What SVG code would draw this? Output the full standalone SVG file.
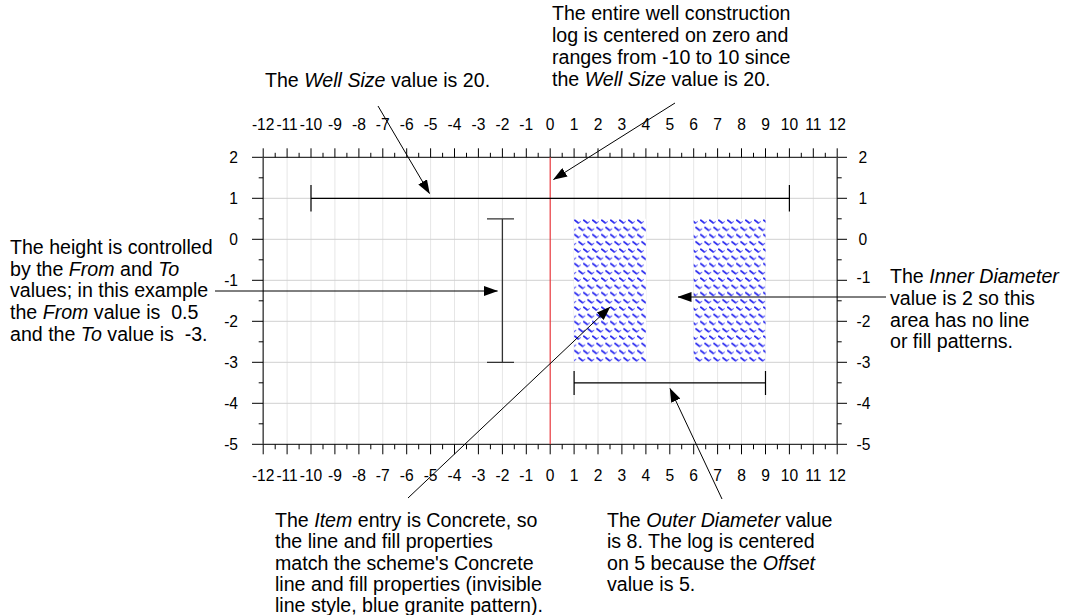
<svg xmlns="http://www.w3.org/2000/svg" width="1068" height="615" viewBox="0 0 1068 615">
<style>
.t{font-family:"Liberation Sans",Arial,sans-serif;font-size:19.6px;fill:#000}
.n{font-family:"Liberation Sans",Arial,sans-serif;font-size:15.6px;fill:#000}
.c{text-anchor:middle}
.e{text-anchor:end}
.gv{stroke:#e6e6e6;stroke-width:1;fill:none}
.gh{stroke:#d0d0d0;stroke-width:1;fill:none}
.tk{stroke:#000;stroke-width:1;fill:none}
.ax{stroke:#555;stroke-width:1.6;fill:none}
.br{stroke:#000;stroke-width:1.2;fill:none}
.ar{stroke:#000;stroke-width:1;fill:none;marker-end:url(#ah)}
</style>
<defs>
<marker id="ah" viewBox="0 0 14 10" refX="13.5" refY="5" markerWidth="14" markerHeight="10" markerUnits="userSpaceOnUse" orient="auto"><path d="M0,0 L14,5 L0,10 z" fill="#000"/></marker>
<pattern id="granite" patternUnits="userSpaceOnUse" width="9" height="14.5" x="574" y="219">
<rect width="9" height="14.5" fill="#fff"/>
<path d="M0.8,1.2 L4.2,3.9 M5,8.45 L8.4,11.15 M-3.5,8.45 L-0.1,11.15" stroke="#2a2af0" stroke-width="1.7" stroke-linecap="round" fill="none"/>
<path d="M4.8,3.9 L6.4,2.6 M9,11.15 L10.6,9.85 M0.3,11.15 L1.9,9.85" stroke="#5a5af5" stroke-width="1" stroke-linecap="round" fill="none"/>
</pattern>
</defs>
<rect width="1068" height="615" fill="#fff"/>
<g id="grid">
<path class="gv" d="M287.1,157.3V444.3M311,157.3V444.3M334.9,157.3V444.3M358.9,157.3V444.3M382.8,157.3V444.3M406.7,157.3V444.3M430.6,157.3V444.3M454.5,157.3V444.3M478.4,157.3V444.3M502.4,157.3V444.3M526.3,157.3V444.3M574.1,157.3V444.3M598,157.3V444.3M621.9,157.3V444.3M645.9,157.3V444.3M669.8,157.3V444.3M693.7,157.3V444.3M717.6,157.3V444.3M741.5,157.3V444.3M765.5,157.3V444.3M789.4,157.3V444.3M813.3,157.3V444.3"/>
<path class="gh" d="M263.2,198.3H837.2M263.2,239.3H837.2M263.2,280.3H837.2M263.2,321.3H837.2M263.2,362.3H837.2M263.2,403.3H837.2"/>
</g>
<g id="axes">
<path class="tk" d="M252,157.3H847M252,444.3H847"/>
<path class="ax" d="M263.2,157.3V444.3M837.2,157.3V444.3"/>
<path class="tk" d="M263.2,157.3v-9M287.1,157.3v-9M311,157.3v-9M334.9,157.3v-9M358.9,157.3v-9M382.8,157.3v-9M406.7,157.3v-9M430.6,157.3v-9M454.5,157.3v-9M478.4,157.3v-9M502.4,157.3v-9M526.3,157.3v-9M550.2,157.3v-9M574.1,157.3v-9M598,157.3v-9M621.9,157.3v-9M645.9,157.3v-9M669.8,157.3v-9M693.7,157.3v-9M717.6,157.3v-9M741.5,157.3v-9M765.5,157.3v-9M789.4,157.3v-9M813.3,157.3v-9M837.2,157.3v-9"/>
<path class="tk" d="M275.2,157.3v-4.5M299.1,157.3v-4.5M323,157.3v-4.5M346.9,157.3v-4.5M370.8,157.3v-4.5M394.7,157.3v-4.5M418.7,157.3v-4.5M442.6,157.3v-4.5M466.5,157.3v-4.5M490.4,157.3v-4.5M514.3,157.3v-4.5M538.2,157.3v-4.5M562.2,157.3v-4.5M586.1,157.3v-4.5M610,157.3v-4.5M633.9,157.3v-4.5M657.8,157.3v-4.5M681.7,157.3v-4.5M705.7,157.3v-4.5M729.6,157.3v-4.5M753.5,157.3v-4.5M777.4,157.3v-4.5M801.3,157.3v-4.5M825.3,157.3v-4.5"/>
<path class="tk" d="M263.2,444.3v10M287.1,444.3v10M311,444.3v10M334.9,444.3v10M358.9,444.3v10M382.8,444.3v10M406.7,444.3v10M430.6,444.3v10M454.5,444.3v10M478.4,444.3v10M502.4,444.3v10M526.3,444.3v10M550.2,444.3v10M574.1,444.3v10M598,444.3v10M621.9,444.3v10M645.9,444.3v10M669.8,444.3v10M693.7,444.3v10M717.6,444.3v10M741.5,444.3v10M765.5,444.3v10M789.4,444.3v10M813.3,444.3v10M837.2,444.3v10"/>
<path class="tk" d="M275.2,444.3v5M299.1,444.3v5M323,444.3v5M346.9,444.3v5M370.8,444.3v5M394.7,444.3v5M418.7,444.3v5M442.6,444.3v5M466.5,444.3v5M490.4,444.3v5M514.3,444.3v5M538.2,444.3v5M562.2,444.3v5M586.1,444.3v5M610,444.3v5M633.9,444.3v5M657.8,444.3v5M681.7,444.3v5M705.7,444.3v5M729.6,444.3v5M753.5,444.3v5M777.4,444.3v5M801.3,444.3v5M825.3,444.3v5"/>
<path class="tk" d="M252,198.3H263.2M252,239.3H263.2M252,280.3H263.2M252,321.3H263.2M252,362.3H263.2M252,403.3H263.2M258.7,177.8H263.2M258.7,218.8H263.2M258.7,259.8H263.2M258.7,300.8H263.2M258.7,341.8H263.2M258.7,382.8H263.2M258.7,423.8H263.2"/>
<path class="tk" d="M837.2,198.3H847M837.2,239.3H847M837.2,280.3H847M837.2,321.3H847M837.2,362.3H847M837.2,403.3H847M837.2,177.8H841.7M837.2,218.8H841.7M837.2,259.8H841.7M837.2,300.8H841.7M837.2,341.8H841.7M837.2,382.8H841.7M837.2,423.8H841.7"/>
<g class="n c">
<text x="263.2" y="129.5">-12</text><text x="287.1" y="129.5">-11</text><text x="311" y="129.5">-10</text><text x="334.9" y="129.5">-9</text><text x="358.9" y="129.5">-8</text><text x="382.8" y="129.5">-7</text><text x="406.7" y="129.5">-6</text><text x="430.6" y="129.5">-5</text><text x="454.5" y="129.5">-4</text><text x="478.4" y="129.5">-3</text><text x="502.4" y="129.5">-2</text><text x="526.3" y="129.5">-1</text><text x="550.2" y="129.5">0</text><text x="574.1" y="129.5">1</text><text x="598" y="129.5">2</text><text x="621.9" y="129.5">3</text><text x="645.9" y="129.5">4</text><text x="669.8" y="129.5">5</text><text x="693.7" y="129.5">6</text><text x="717.6" y="129.5">7</text><text x="741.5" y="129.5">8</text><text x="765.5" y="129.5">9</text><text x="789.4" y="129.5">10</text><text x="813.3" y="129.5">11</text><text x="837.2" y="129.5">12</text>
<text x="263.2" y="480.5">-12</text><text x="287.1" y="480.5">-11</text><text x="311" y="480.5">-10</text><text x="334.9" y="480.5">-9</text><text x="358.9" y="480.5">-8</text><text x="382.8" y="480.5">-7</text><text x="406.7" y="480.5">-6</text><text x="430.6" y="480.5">-5</text><text x="454.5" y="480.5">-4</text><text x="478.4" y="480.5">-3</text><text x="502.4" y="480.5">-2</text><text x="526.3" y="480.5">-1</text><text x="550.2" y="480.5">0</text><text x="574.1" y="480.5">1</text><text x="598" y="480.5">2</text><text x="621.9" y="480.5">3</text><text x="645.9" y="480.5">4</text><text x="669.8" y="480.5">5</text><text x="693.7" y="480.5">6</text><text x="717.6" y="480.5">7</text><text x="741.5" y="480.5">8</text><text x="765.5" y="480.5">9</text><text x="789.4" y="480.5">10</text><text x="813.3" y="480.5">11</text><text x="837.2" y="480.5">12</text>
</g>
<g class="n e">
<text x="238" y="162.8">2</text><text x="238" y="203.8">1</text><text x="238" y="244.8">0</text><text x="238" y="285.8">-1</text><text x="238" y="326.8">-2</text><text x="238" y="367.8">-3</text><text x="238" y="408.8">-4</text><text x="238" y="449.8">-5</text>
</g>
<g class="n">
<text x="858.5" y="162.8">2</text><text x="858.5" y="203.8">1</text><text x="858.5" y="244.8">0</text><text x="856.5" y="283">-1</text><text x="856.5" y="326.8">-2</text><text x="856.5" y="367.8">-3</text><text x="856.5" y="408.8">-4</text><text x="856.5" y="449.8">-5</text>
</g>
<path d="M550.2,157.3V444.3" stroke="#e8383d" stroke-width="1.2" fill="none"/>
</g>
<g id="concrete-left"><rect x="574.1" y="218.8" width="71.8" height="143.5" fill="url(#granite)"/></g>
<g id="concrete-right"><rect x="693.7" y="218.8" width="71.8" height="143.5" fill="url(#granite)"/></g>
<g id="well-size-bar"><path class="br" d="M311,198.3H789.4M311,185V211.6M789.4,185V211.6"/></g>
<g id="height-bar"><path d="M502.4,218.8V362.3M487,218.8H514M487,362.3H514" stroke="#333" stroke-width="1.3" fill="none"/></g>
<g id="outer-diameter-bar"><path class="br" d="M574.1,382.8H765.5M574.1,371V395M765.5,371V395"/></g>
<g id="connectors">
<path class="ar" d="M378,106L429.5,193.5"/>
<path class="ar" d="M675,103L553.5,179.5"/>
<path class="ar" d="M215,291H497.5"/>
<path class="ar" d="M886,297H678"/>
<path class="ar" d="M408,498L610,307"/>
<path class="ar" d="M722,499L670,388.5"/>
</g>
<g id="label-well-size"><text class="t" x="265" y="87">The <tspan font-style="italic">Well Size</tspan> value is 20.</text></g>
<g id="label-entire">
<text class="t" x="552" y="20">The entire well construction</text>
<text class="t" x="552" y="42">log is centered on zero and</text>
<text class="t" x="552" y="64">ranges from -10 to 10 since</text>
<text class="t" x="552" y="86">the <tspan font-style="italic">Well Size</tspan> value is 20.</text>
</g>
<g id="label-height">
<text class="t" x="10" y="254">The height is controlled</text>
<text class="t" x="10" y="275.7">by the <tspan font-style="italic">From</tspan> and <tspan font-style="italic">To</tspan></text>
<text class="t" x="10" y="297.4">values; in this example</text>
<text class="t" x="10" y="319.1" xml:space="preserve">the <tspan font-style="italic">From</tspan> value is  0.5</text>
<text class="t" x="10" y="340.8" xml:space="preserve">and the <tspan font-style="italic">To</tspan> value is  -3.</text>
</g>
<g id="label-inner">
<text class="t" x="890" y="283.3">The <tspan font-style="italic">Inner Diameter</tspan></text>
<text class="t" x="890" y="305">value is 2 so this</text>
<text class="t" x="890" y="326.7">area has no line</text>
<text class="t" x="890" y="348.4">or fill patterns.</text>
</g>
<g id="label-item">
<text class="t" x="275" y="526.5">The <tspan font-style="italic">Item</tspan> entry is Concrete, so</text>
<text class="t" x="275" y="548">the line and fill properties</text>
<text class="t" x="275" y="569.5">match the scheme's Concrete</text>
<text class="t" x="275" y="591">line and fill properties (invisible</text>
<text class="t" x="275" y="611.5">line style, blue granite pattern).</text>
</g>
<g id="label-outer">
<text class="t" x="607" y="526.5">The <tspan font-style="italic">Outer Diameter</tspan> value</text>
<text class="t" x="607" y="548">is 8. The log is centered</text>
<text class="t" x="607" y="569.5">on 5 because the <tspan font-style="italic">Offset</tspan></text>
<text class="t" x="607" y="591">value is 5.</text>
</g>
</svg>
